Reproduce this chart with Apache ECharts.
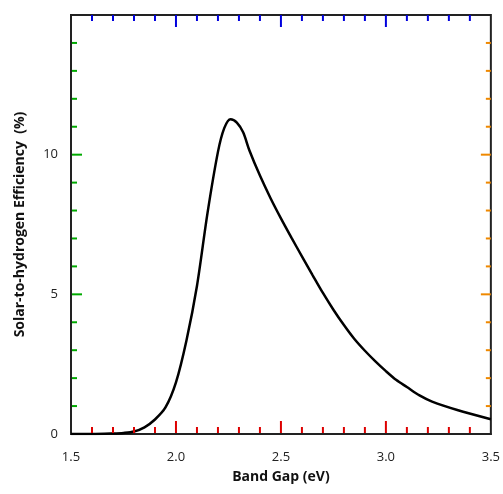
<!DOCTYPE html>
<html>
<head>
<meta charset="utf-8">
<script src="https://cdn.jsdelivr.net/npm/echarts@6/dist/echarts.min.js"></script>
<style>
  html, body { margin: 0; padding: 0; background: #fff; }
  #chart { width: 503px; height: 494px; }
</style>
</head>
<body>
<div id="chart"></div>
<script>
// band gap (eV) vs STH efficiency (%)
var bandGap = [1.5, 1.6, 1.7, 1.75, 1.8, 1.85, 1.9, 1.95, 2.0, 2.05, 2.1, 2.15, 2.2, 2.23, 2.26, 2.29, 2.32, 2.35, 2.4, 2.45, 2.5, 2.55, 2.6, 2.65, 2.7, 2.75, 2.8, 2.85, 2.9, 2.95, 3.0, 3.05, 3.1, 3.16, 3.22, 3.34, 3.5];
var efficiency = [0, 0, 0.02, 0.04, 0.09, 0.24, 0.52, 0.95, 1.85, 3.35, 5.3, 7.9, 10.1, 10.95, 11.27, 11.15, 10.8, 10.15, 9.25, 8.45, 7.72, 7.03, 6.36, 5.7, 5.05, 4.45, 3.9, 3.4, 2.98, 2.6, 2.25, 1.93, 1.68, 1.38, 1.16, 0.86, 0.53];
var yLabels = ['0', '5', '10'];
// frame ticks (value, 1 = major)
var xTicks = [1.6, 1.7, 1.8, 1.9, 2.0, 2.1, 2.2, 2.3, 2.4, 2.5, 2.6, 2.7, 2.8, 2.9, 3.0, 3.1, 3.2, 3.3, 3.4];
var xMajor = [0, 0, 0, 0, 1, 0, 0, 0, 0, 1, 0, 0, 0, 0, 1, 0, 0, 0, 0];
var yTicks = [1, 2, 3, 4, 5, 6, 7, 8, 9, 10, 11, 12, 13, 14];
var yMajor = [0, 0, 0, 0, 1, 0, 0, 0, 0, 1, 0, 0, 0, 0];

var font = '"Open Sans", "Liberation Sans", sans-serif';
var xMin = 1.5, xMax = 3.5, yMin = 0, yMax = 15;

var points = [];
for (var i = 0; i < bandGap.length; i++) {
    points.push([bandGap[i], efficiency[i]]);
}
var xTickData = [];
for (var i = 0; i < xTicks.length; i++) xTickData.push([xTicks[i], yMin, xMajor[i]]);
var yTickData = [];
for (var i = 0; i < yTicks.length; i++) yTickData.push([xMin, yTicks[i], yMajor[i]]);

function tickLine(x1, y1, x2, y2, color) {
    return { type: 'line', shape: { x1: x1, y1: y1, x2: x2, y2: y2 },
             style: { stroke: color, lineWidth: 2 } };
}

// ticks drawn through the axis scales, inside on all four sides
function renderXTick(params, api) {
    var v = api.value(0);
    var len = api.value(2) ? 12 : 6;
    var b = api.coord([v, yMin]);
    var t = api.coord([v, yMax]);
    return { type: 'group', children: [
        tickLine(b[0], b[1] - 1, b[0], b[1] - 1 - len, '#d00'),
        tickLine(t[0], t[1], t[0], t[1] + len, '#00d')
    ] };
}

function renderYTick(params, api) {
    var v = api.value(1);
    var len = api.value(2) ? 10 : 5;
    var l = api.coord([xMin, v]);
    var r = api.coord([xMax, v]);
    return { type: 'group', children: [
        tickLine(l[0] + 1, l[1], l[0] + 1 + len, l[1], '#0a0'),
        tickLine(r[0], r[1], r[0] - len, r[1], '#e80')
    ] };
}

var myChart = echarts.init(document.getElementById('chart'));
var option = {
    animation: false,
    grid: { left: 71, right: 12, top: 15, bottom: 60, show: true, borderColor: '#222', borderWidth: 2 },
    xAxis: {
        type: 'value',
        min: xMin, max: xMax, interval: 0.5,
        name: 'Band Gap (eV)',
        nameLocation: 'middle',
        nameGap: 36,
        nameTextStyle: { fontFamily: font, fontWeight: 'bold', fontSize: 14, color: '#111' },
        axisLine: { show: true, onZero: false, lineStyle: { color: '#222', width: 2 } },
        axisTick: { show: false },
        axisLabel: {
            margin: 17, fontFamily: font, fontSize: 13, color: '#222',
            formatter: function (v) { return v.toFixed(1); }
        },
        splitLine: { show: false }
    },
    yAxis: {
        type: 'value',
        min: yMin, max: yMax, interval: 5,
        name: 'Solar-to-hydrogen Efficiency  (%)',
        nameLocation: 'middle',
        nameGap: 44,
        nameTextStyle: { fontFamily: font, fontWeight: 'bold', fontSize: 14, color: '#111' },
        axisLine: { show: true, onZero: false, lineStyle: { color: '#222', width: 2 } },
        axisTick: { show: false },
        axisLabel: {
            margin: 13, fontFamily: font, fontSize: 13, color: '#222',
            formatter: function (v) { return yLabels[v / 5] || ''; }
        },
        splitLine: { show: false }
    },
    series: [{
        type: 'line',
        data: points,
        smooth: 0.3,
        showSymbol: false,
        lineStyle: { color: '#000', width: 2.5 }
    }, {
        type: 'custom',
        data: xTickData,
        encode: { x: 0, y: 1 },
        clip: false,
        silent: true,
        z: 5,
        renderItem: renderXTick
    }, {
        type: 'custom',
        data: yTickData,
        encode: { x: 0, y: 1 },
        clip: false,
        silent: true,
        z: 5,
        renderItem: renderYTick
    }]
};
myChart.setOption(option);
</script>
</body>
</html>
